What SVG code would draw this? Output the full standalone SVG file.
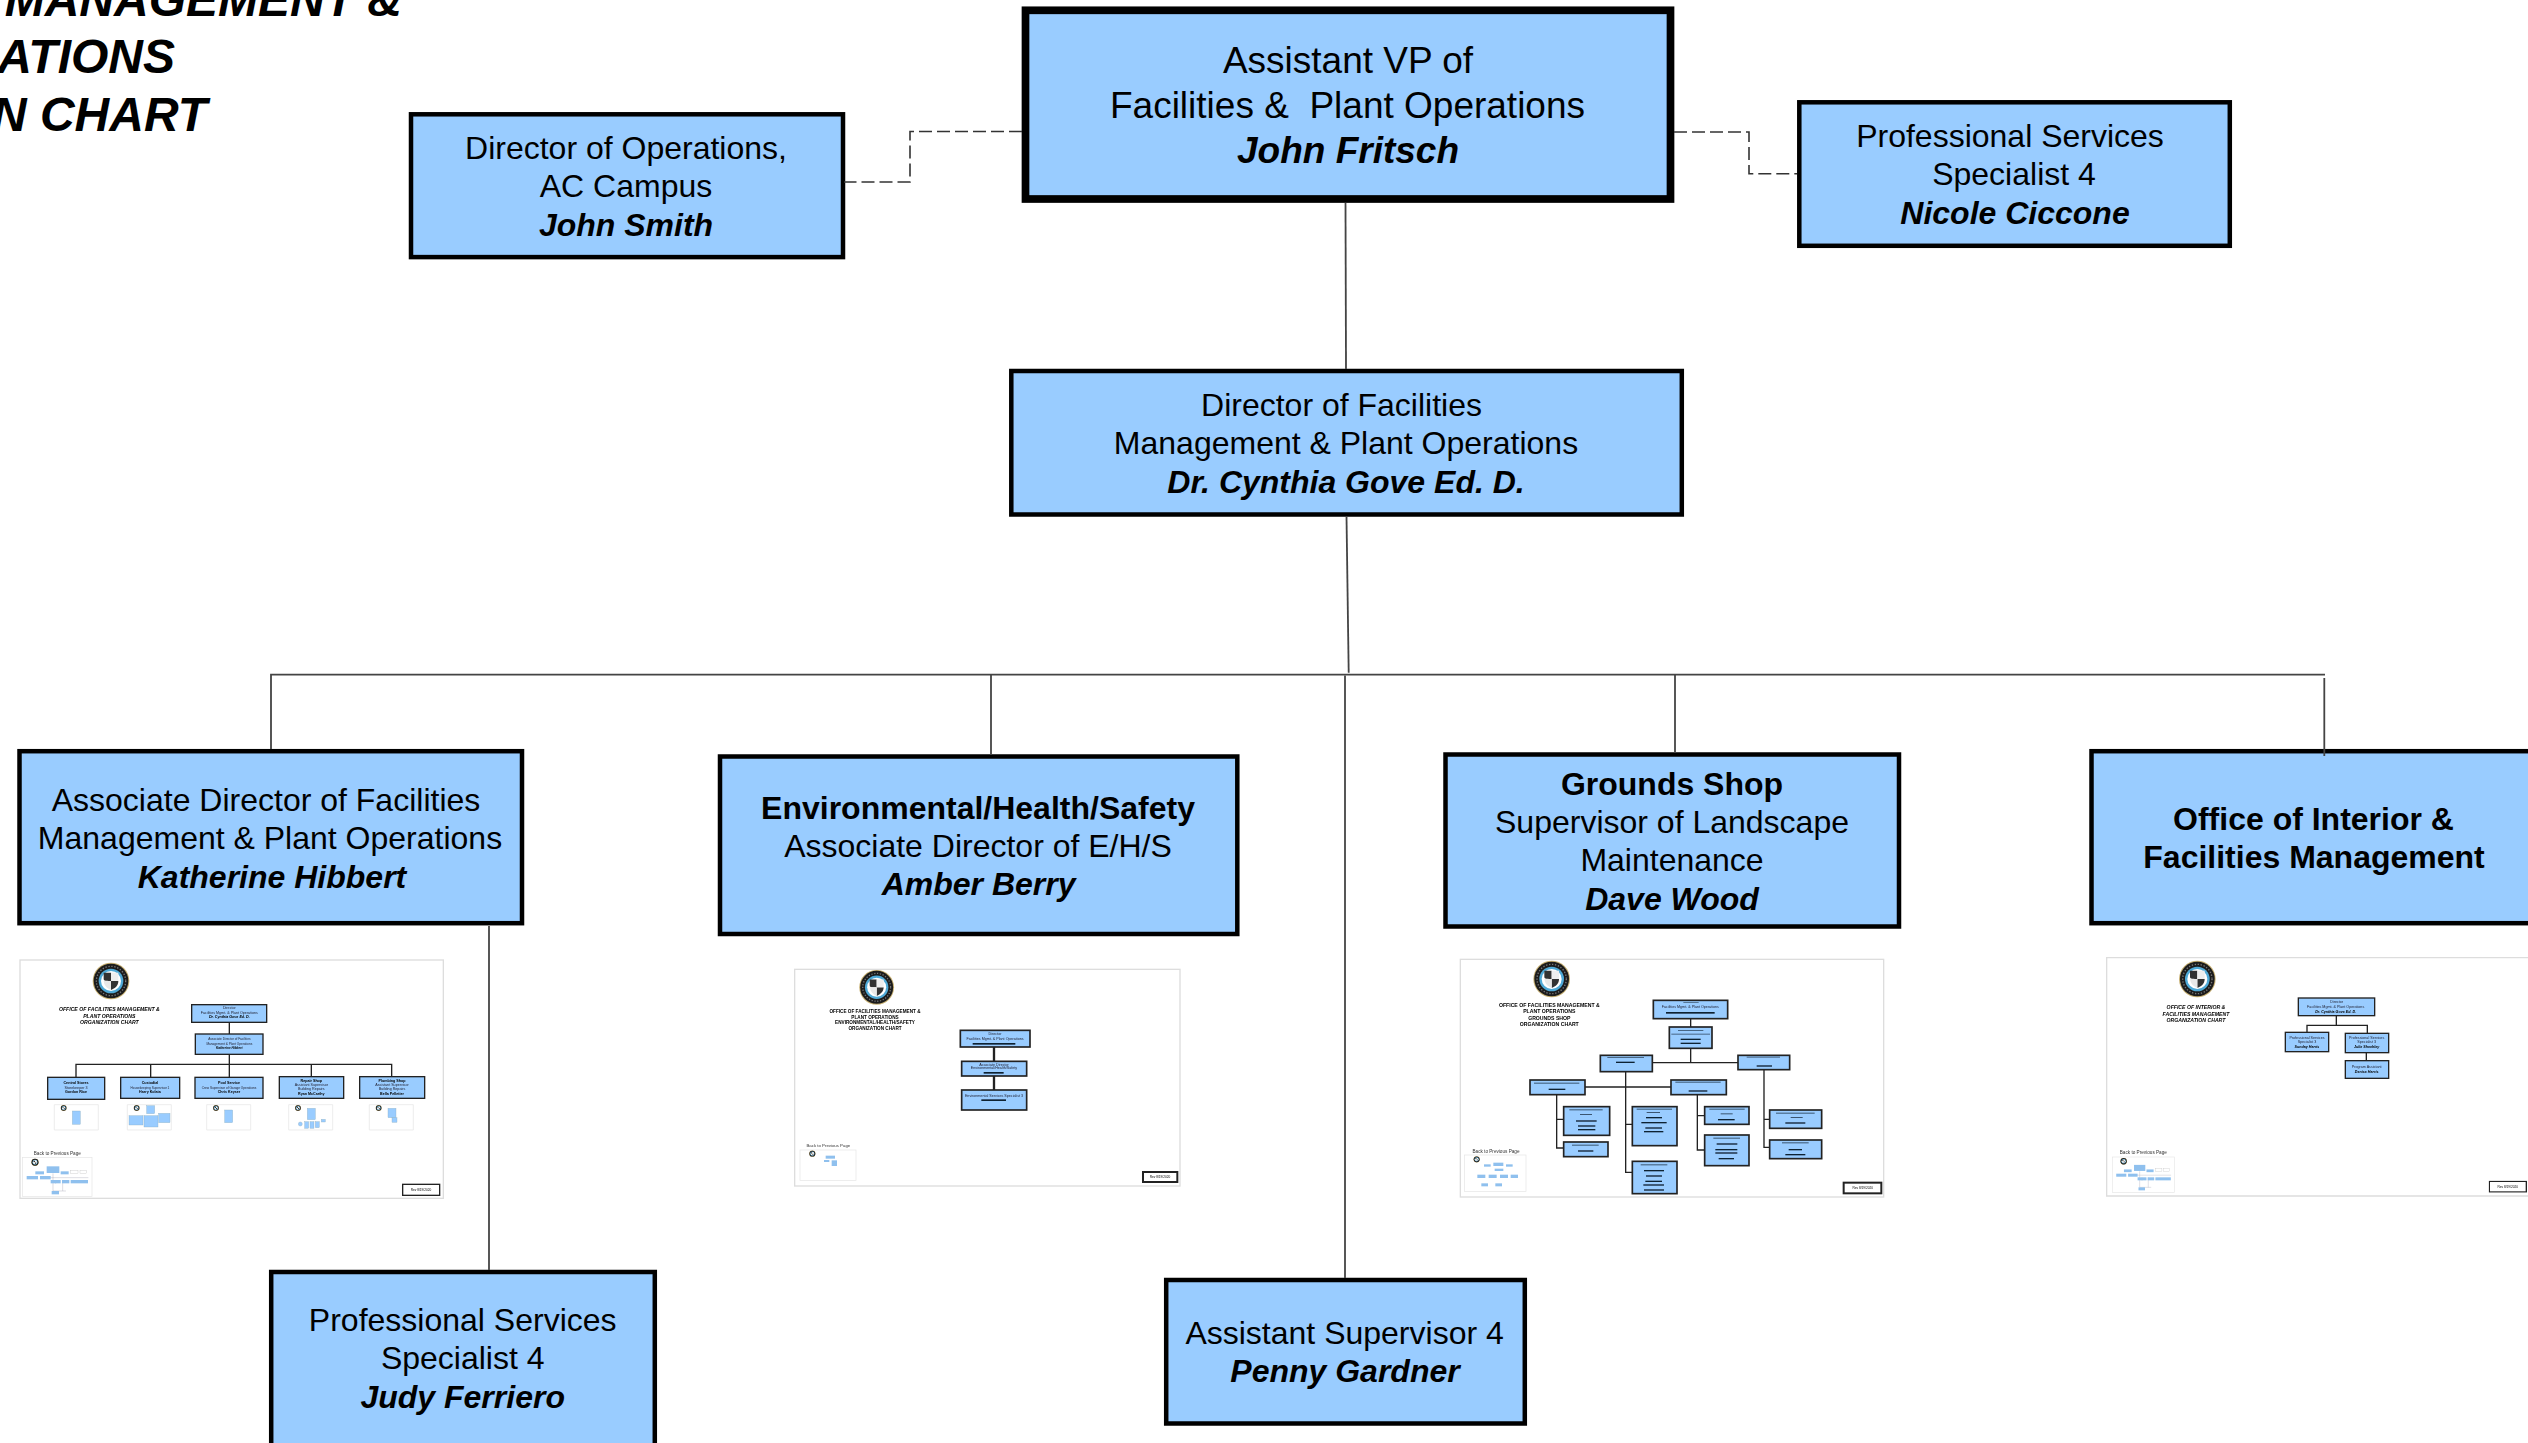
<svg xmlns="http://www.w3.org/2000/svg" width="2528" height="1443" viewBox="0 0 2528 1443">
<style>
text{font-family:"Liberation Sans",Arial,sans-serif;fill:#000;white-space:pre}
.n rect{fill:#9cf;stroke:#000;stroke-width:4.5}
.n text{font-size:32px;text-anchor:middle}
.b{font-weight:bold}
.bi{font-weight:bold;font-style:italic}
.title{font-size:48px;font-weight:bold;font-style:italic;text-anchor:end}
.c{fill:none;stroke:#444;stroke-width:1.8}
.d{fill:none;stroke:#333;stroke-width:1.6;stroke-dasharray:13 5}
.th{filter:url(#soft)}
.fr{fill:#fff;stroke:#ddd;stroke-width:4}
.bx{fill:#9cf;stroke:#222;stroke-width:4}
.bt{fill:#9cf;stroke:#222;stroke-width:5}
.ln{fill:none;stroke:#222;stroke-width:4}
.tt{font-size:15.5px;font-weight:bold;font-style:italic;text-anchor:middle}
.tb{font-size:15.5px;font-weight:bold;text-anchor:middle}
.s{font-size:11px;text-anchor:middle;fill:#223}
.sb{font-size:11px;font-weight:bold;text-anchor:middle}
.si{font-size:11px;font-weight:bold;font-style:italic;text-anchor:middle}
.bk{font-size:14px;text-anchor:middle;fill:#333}
.rv{fill:#fff;stroke:#222;stroke-width:4}
.rt{font-size:9.5px;text-anchor:middle}
.bar{fill:#123}
.g{fill:#9cf;stroke:#8ab;stroke-width:1}
.m{fill:#fff;stroke:#e4e4e4;stroke-width:2}
.mb{fill:#8fc0ee}
.mw{fill:#fff;stroke:#bbb;stroke-width:1}
.ml{fill:none;stroke:#99a;stroke-width:1}
</style>
<defs>
<filter id="soft" x="-2%" y="-2%" width="104%" height="104%"><feGaussianBlur stdDeviation="2.1"/></filter>
<g id="logo">
<circle r="55" fill="#c8b173"/><circle r="52" fill="#1c1c1c"/><circle r="37" fill="#4fa9d6"/><circle r="30" fill="#fff"/>
<path d="M0 0V-25H-22V-8C-22 0 -20 0 0 0Z" fill="#333"/><path d="M0 0H22C22 14 12 22 0 27Z" fill="#333"/>
<path d="M0 0H-22C-20 14 -12 22 0 27Z" fill="#e8e8e8"/><path d="M0 0V-25H22V0Z" fill="#eee"/>
<circle r="44" fill="none" stroke="#777" stroke-width="4" stroke-dasharray="4 5"/>
</g>
<g id="mini">
<rect class="m" width="208" height="117"/>
<use href="#logo" transform="translate(37,14) scale(.2)"/>
<path class="ml" d="M91 47V100H130M91 60H60M91 60H197M99 67V78M120 67V100"/>
<rect class="mb" x="72" y="26" width="38" height="20"/><rect class="mb" x="38" y="41" width="26" height="9"/><rect class="mb" x="114" y="41" width="24" height="9"/>
<rect class="mw" x="144" y="39" width="22" height="8"/><rect class="mw" x="172" y="39" width="20" height="8"/>
<rect class="mb" x="12" y="55" width="34" height="10"/><rect class="mb" x="52" y="55" width="32" height="10"/>
<rect class="mb" x="84" y="67" width="30" height="10"/><rect class="mb" x="118" y="67" width="22" height="10"/><rect class="mb" x="144" y="67" width="52" height="10"/>
<rect class="mb" x="87" y="100" width="22" height="10"/>
</g>
<g id="tiny"><path d="M0 0H132V76H0Z" class="m"/><use href="#logo" transform="translate(28,10) scale(.16)"/></g>
</defs>
<rect width="2528" height="1443" fill="#fff"/>

<text class="title" x="402" y="16">MANAGEMENT &amp;</text>
<text class="title" x="175" y="73">ATIONS</text>
<text class="title" x="207" y="131">N CHART</text>

<g id="node-avp" class="n"><rect x="1025.5" y="10.3" width="645" height="188.7" style="stroke-width:7.7"/>
<text x="1348" y="72.7" style="font-size:37px">Assistant VP of</text><text x="1347.5" y="117.5" style="font-size:37px">Facilities &amp;  Plant Operations</text><text class="bi" x="1348" y="162.7" style="font-size:37px">John Fritsch</text></g>
<g id="node-ops" class="n"><rect x="411" y="114.3" width="432" height="142.8"/>
<text x="626" y="158.7">Director of Operations,</text><text x="626" y="196.7">AC Campus</text><text class="bi" x="626" y="235.5">John Smith</text></g>
<g id="node-ciccone" class="n"><rect x="1799.3" y="102.3" width="430.5" height="143.5"/>
<text x="2010" y="146.7">Professional Services</text><text x="2014" y="185">Specialist 4</text><text class="bi" x="2015" y="224">Nicole Ciccone</text></g>
<g id="node-gove" class="n"><rect x="1011.3" y="371" width="670.5" height="143.5"/>
<text x="1341.5" y="416">Director of Facilities</text><text x="1346" y="454">Management &amp; Plant Operations</text><text class="bi" x="1346" y="493">Dr. Cynthia Gove Ed. D.</text></g>
<g id="node-hibbert" class="n"><rect x="19.5" y="751.2" width="502.5" height="172"/>
<text x="266" y="810.7">Associate Director of Facilities</text><text x="270" y="849">Management &amp; Plant Operations</text><text class="bi" x="272" y="888">Katherine Hibbert</text></g>
<g id="node-berry" class="n"><rect x="720" y="756.5" width="517.3" height="177.5"/>
<text class="b" x="978" y="818.5">Environmental/Health/Safety</text><text x="978" y="856.7">Associate Director of E/H/S</text><text class="bi" x="978.6" y="895">Amber Berry</text></g>
<g id="node-wood" class="n"><rect x="1445.5" y="754.5" width="453.5" height="172"/>
<text class="b" x="1672" y="794.5">Grounds Shop</text><text x="1672" y="832.5">Supervisor of Landscape</text><text x="1672" y="871">Maintenance</text><text class="bi" x="1672" y="910">Dave Wood</text></g>
<g id="node-interior" class="n"><rect x="2091.5" y="751.2" width="500" height="172"/>
<text class="b" x="2313.5" y="830">Office of Interior &amp;</text><text class="b" x="2314" y="868">Facilities Management</text></g>
<g id="node-ferriero" class="n"><rect x="271.2" y="1272" width="383.6" height="250"/>
<text x="462.7" y="1330.5">Professional Services</text><text x="462.7" y="1369">Specialist 4</text><text class="bi" x="462.7" y="1408">Judy Ferriero</text></g>
<g id="node-gardner" class="n"><rect x="1166.2" y="1280" width="358.6" height="143.5"/>
<text x="1344.6" y="1343.7">Assistant Supervisor 4</text><text class="bi" x="1345" y="1382">Penny Gardner</text></g>

<g class="th" transform="translate(0,940) scale(.33333)">
<rect class="fr" x="60" y="60" width="1270" height="715"/>
<use href="#logo" transform="translate(333,123)"/>
<text class="tt" x="328" y="213">OFFICE OF FACILITIES MANAGEMENT &amp;</text><text class="tt" x="328" y="234">PLANT OPERATIONS</text><text class="tt" x="328" y="253">ORGANIZATION CHART</text>
<path class="ln" d="M688 247V411M228 411V373H1175V411M452 373V411M934 373V411"/>
<rect class="bx" x="575" y="194" width="225" height="53"/><text class="s" x="688" y="207">Director</text><text class="s" x="688" y="222">Facilities Mgmt. &amp; Plant Operations</text><text class="si" x="688" y="235">Dr. Cynthia Gove Ed. D.</text>
<rect class="bx" x="586" y="282" width="203" height="61"/><text class="s" x="688" y="301" style="font-size:9.5px">Associate Director of Facilities</text><text class="s" x="688" y="314" style="font-size:9.5px">Management &amp; Plant Operations</text><text class="si" x="688" y="328" style="font-size:9.5px">Katherine Hibbert</text>
<rect class="bx" x="143" y="412" width="171" height="66"/><text class="sb" x="228" y="433">Central Stores</text><text class="s" x="228" y="446">Storekeeper 3</text><text class="sb" x="228" y="460">Gordon Rice</text>
<rect class="bx" x="362" y="412" width="177" height="63"/><text class="sb" x="450" y="433">Custodial</text><text class="s" x="450" y="446" style="font-size:9.5px">Housekeeping Supervisor 1</text><text class="sb" x="450" y="460">Harry Kolata</text>
<rect class="bx" x="585" y="412" width="204" height="63"/><text class="sb" x="687" y="433">Pool Service</text><text class="s" x="687" y="446" style="font-size:9.5px">Crew Supervisor of Garage Operations</text><text class="sb" x="687" y="460">Chris Keyser</text>
<rect class="bx" x="838" y="410" width="193" height="65"/><text class="sb" x="934" y="426">Repair Shop</text><text class="s" x="934" y="439">Assistant Supervisor</text><text class="s" x="934" y="451">Building Repairs</text><text class="sb" x="934" y="465">Ryan McCarthy</text>
<rect class="bx" x="1079" y="410" width="195" height="65"/><text class="sb" x="1176" y="426">Plumbing Shop</text><text class="s" x="1176" y="439">Assistant Supervisor</text><text class="s" x="1176" y="451">Building Repairs</text><text class="sb" x="1176" y="465">Bella Pelletier</text>
<use href="#tiny" x="163" y="494"/><rect class="g" x="217" y="513" width="24" height="40"/>
<use href="#tiny" x="382" y="494"/><rect class="g" x="440" y="497" width="24" height="24"/><rect class="g" x="387" y="527" width="42" height="28"/><rect class="g" x="432" y="527" width="42" height="34"/><rect class="g" x="476" y="520" width="34" height="28"/>
<use href="#tiny" x="620" y="494"/><rect class="g" x="674" y="510" width="24" height="38"/>
<use href="#tiny" x="866" y="494"/><rect class="g" x="922" y="505" width="24" height="34"/><circle class="g" cx="901" cy="552" r="6"/><rect class="g" x="914" y="545" width="12" height="20"/><rect class="g" x="930" y="545" width="12" height="20"/><rect class="g" x="946" y="545" width="12" height="18"/><rect class="g" x="964" y="538" width="12" height="8"/>
<use href="#tiny" x="1108" y="494"/><rect class="g" x="1164" y="505" width="24" height="28"/><rect class="g" x="1176" y="533" width="15" height="14"/>
<text class="bk" x="172" y="646">Back to Previous Page</text>
<use href="#mini" x="68" y="653"/>
<rect class="rv" x="1208" y="733" width="111" height="33"/><text class="rt" x="1263" y="753">Rev 8/19/2020</text>
</g>

<g class="th" transform="translate(780,950) scale(.33333)">
<rect class="fr" x="44" y="58" width="1156" height="650"/>
<use href="#logo" transform="translate(290,112) scale(.95)"/>
<text class="tb" x="285" y="188" style="font-size:14px">OFFICE OF FACILITIES MANAGEMENT &amp;</text><text class="tb" x="285" y="206" style="font-size:14px">PLANT OPERATIONS</text><text class="tb" x="285" y="221" style="font-size:14px">ENVIRONMENTAL/HEALTH/SAFETY</text><text class="tb" x="285" y="240" style="font-size:14px">ORGANIZATION CHART</text>
<path class="ln" d="M642 291V420" style="stroke-width:7"/>
<rect class="bt" x="541" y="241" width="209" height="50"/><text class="s" x="645" y="254">Director</text><text class="s" x="645" y="269">Facilities Mgmt. &amp; Plant Operations</text><rect class="bar" x="578" y="279" width="128" height="5"/>
<rect class="bt" x="545" y="334" width="195" height="44"/><text class="s" x="642" y="347">Associate Director</text><text class="s" x="642" y="358">Environmental/Health/Safety</text><rect class="bar" x="611" y="366" width="60" height="5"/>
<rect class="bt" x="545" y="420" width="195" height="60"/><text class="s" x="642" y="442">Environmental Services Specialist 3</text><rect class="bar" x="604" y="448" width="74" height="5"/>
<text class="bk" x="145" y="592" style="font-size:13px">Back to Previous Page</text>
<rect class="m" x="60" y="600" width="168" height="92"/><use href="#logo" transform="translate(97,611) scale(.17)"/><rect class="mb" x="137" y="617" width="28" height="9"/><rect class="mb" x="132" y="630" width="16" height="6"/><rect class="mb" x="155" y="631" width="16" height="17"/>
<rect class="rv" x="1089" y="666" width="103" height="30" style="stroke-width:6"/><text class="rt" x="1140" y="685">Rev 8/19/2020</text>
</g>

<g class="th" transform="translate(1450,940) scale(.33333)">
<rect class="fr" x="31" y="58" width="1270" height="713"/>
<use href="#logo" transform="translate(305,117)"/>
<text class="tb" x="298" y="200">OFFICE OF FACILITIES MANAGEMENT &amp;</text><text class="tb" x="298" y="220">PLANT OPERATIONS</text><text class="tb" x="298" y="239">GROUNDS SHOP</text><text class="tb" x="298" y="259">ORGANIZATION CHART</text>
<path class="ln" d="M722 236V368M607 368H864M527 395V697H547M405 441H663M320 464V624H341M320 538H341M527 553H547M742 464V630H764M742 527H764M942 389V622H959M942 538H959"/>
<rect class="bt" x="610" y="181" width="223" height="55"/><rect class="bar" x="700" y="186" width="46" height="3" opacity=".5"/><text class="s" x="721" y="205">Facilities Mgmt. &amp; Plant Operations</text><rect class="bar" x="648" y="216" width="146" height="5"/>
<rect class="bt" x="658" y="261" width="128" height="64"/><rect class="bar" x="684" y="270" width="76" height="3" opacity=".6"/><rect class="bar" x="664" y="281" width="116" height="3" opacity=".6"/><rect class="bar" x="692" y="296" width="60" height="4"/><rect class="bar" x="692" y="308" width="60" height="4"/>
<rect class="bt" x="451" y="346" width="156" height="49"/><rect class="bar" x="472" y="351" width="110" height="3" opacity=".6"/><rect class="bar" x="498" y="365" width="56" height="4"/>
<rect class="bt" x="864" y="346" width="155" height="43"/><rect class="bar" x="890" y="350" width="100" height="3" opacity=".6"/><rect class="bar" x="920" y="376" width="46" height="4"/>
<rect class="bt" x="240" y="420" width="165" height="44"/><rect class="bar" x="252" y="428" width="136" height="3" opacity=".7"/><rect class="bar" x="296" y="446" width="50" height="4"/>
<rect class="bt" x="663" y="420" width="166" height="44"/><rect class="bar" x="676" y="425" width="136" height="3" opacity=".7"/><rect class="bar" x="716" y="451" width="56" height="4"/>
<rect class="bt" x="341" y="500" width="138" height="86"/><rect class="bar" x="358" y="508" width="100" height="3" opacity=".7"/><rect class="bar" x="390" y="522" width="36" height="3" opacity=".7"/><rect class="bar" x="378" y="541" width="62" height="4"/><rect class="bar" x="384" y="556" width="52" height="4"/><rect class="bar" x="384" y="567" width="52" height="4"/>
<rect class="bt" x="341" y="606" width="133" height="44"/><rect class="bar" x="366" y="614" width="80" height="3" opacity=".7"/><rect class="bar" x="384" y="631" width="46" height="4"/>
<rect class="bt" x="547" y="500" width="134" height="117"/><rect class="bar" x="560" y="506" width="106" height="3" opacity=".7"/><rect class="bar" x="590" y="516" width="40" height="3" opacity=".7"/><rect class="bar" x="588" y="531" width="48" height="4"/><rect class="bar" x="574" y="546" width="76" height="4"/><rect class="bar" x="586" y="562" width="50" height="4"/><rect class="bar" x="582" y="573" width="58" height="4"/>
<rect class="bt" x="547" y="664" width="134" height="97"/><rect class="bar" x="572" y="673" width="80" height="3" opacity=".7"/><rect class="bar" x="582" y="690" width="60" height="4"/><rect class="bar" x="588" y="706" width="48" height="4"/><rect class="bar" x="586" y="722" width="50" height="4"/><rect class="bar" x="580" y="733" width="62" height="4"/><rect class="bar" x="582" y="748" width="60" height="4"/>
<rect class="bt" x="764" y="500" width="133" height="53"/><rect class="bar" x="778" y="506" width="106" height="3" opacity=".7"/><rect class="bar" x="812" y="520" width="36" height="3" opacity=".7"/><rect class="bar" x="804" y="537" width="50" height="4"/>
<rect class="bt" x="764" y="585" width="133" height="92"/><rect class="bar" x="790" y="593" width="80" height="3" opacity=".7"/><rect class="bar" x="800" y="610" width="62" height="4"/><rect class="bar" x="796" y="627" width="66" height="4"/><rect class="bar" x="796" y="637" width="66" height="4"/><rect class="bar" x="806" y="654" width="46" height="4"/>
<rect class="bt" x="959" y="510" width="156" height="55"/><rect class="bar" x="978" y="518" width="116" height="3" opacity=".7"/><rect class="bar" x="1022" y="531" width="36" height="3" opacity=".7"/><rect class="bar" x="1006" y="547" width="60" height="4"/>
<rect class="bt" x="959" y="600" width="156" height="56"/><rect class="bar" x="996" y="607" width="80" height="3" opacity=".7"/><rect class="bar" x="1016" y="627" width="40" height="4"/><rect class="bar" x="1006" y="642" width="60" height="4"/>
<text class="bk" x="138" y="640">Back to Previous Page</text>
<rect class="m" x="44" y="645" width="184" height="110"/><use href="#logo" transform="translate(80,658) scale(.17)"/><rect class="mb" x="130" y="668" width="30" height="10"/><rect class="mb" x="102" y="673" width="20" height="7"/><rect class="mb" x="168" y="673" width="20" height="7"/><rect class="mb" x="134" y="686" width="26" height="7"/><rect class="mb" x="82" y="704" width="24" height="10"/><rect class="mb" x="116" y="704" width="24" height="10"/><rect class="mb" x="150" y="704" width="24" height="10"/><rect class="mb" x="182" y="704" width="22" height="10"/><rect class="mb" x="94" y="730" width="20" height="9"/><rect class="mb" x="136" y="730" width="20" height="9"/>
<rect class="rv" x="1181" y="728" width="113" height="32" style="stroke-width:6"/><text class="rt" x="1238" y="748">Rev 8/19/2020</text>
</g>

<g class="th" transform="translate(2090,940) scale(.33333)">
<path class="fr" d="M1330 53H50V768H1330"/>
<use href="#logo" transform="translate(322,117)"/>
<text class="tt" x="318" y="207">OFFICE OF INTERIOR &amp;</text><text class="tt" x="318" y="227">FACILITIES MANAGEMENT</text><text class="tt" x="318" y="247">ORGANIZATION CHART</text>
<path class="ln" d="M739 227V256M651 277V256H832V280M829 338V362"/>
<rect class="bx" x="625" y="174" width="229" height="53"/><text class="s" x="740" y="188">Director</text><text class="s" x="737" y="203">Facilities Mgmt. &amp; Plant Operations</text><text class="si" x="737" y="218">Dr. Cynthia Gove Ed. D.</text>
<rect class="bx" x="586" y="277" width="130" height="58"/><text class="s" x="651" y="297">Professional Services</text><text class="s" x="651" y="309">Specialist 3</text><text class="si" x="651" y="323">Sunday Harris</text>
<rect class="bx" x="766" y="280" width="130" height="58"/><text class="s" x="830" y="297">Professional Services</text><text class="s" x="830" y="309">Specialist 3</text><text class="si" x="830" y="323">Julie Sheehley</text>
<rect class="bx" x="766" y="362" width="130" height="53"/><text class="s" x="830" y="384">Program Assistant</text><text class="si" x="830" y="398">Denise Harris</text>
<text class="bk" x="160" y="642">Back to Previous Page</text>
<use href="#mini" transform="translate(68,651) scale(.89,.91)"/>
<rect class="rv" x="1198" y="724" width="111" height="32"/><text class="rt" x="1253" y="743">Rev 8/19/2020</text>
</g>

<g id="connectors">
<path class="d" d="M1022 131.5H910V182H844"/>
<path class="d" d="M1674 132H1749V173.7H1797"/>
<path class="c" d="M1345.5 203L1346 369"/>
<path class="c" d="M1346.5 516L1348.7 672.7"/>
<path class="c" d="M271 749V674.7H2325"/>
<path class="c" d="M2324.3 678V756"/>
<path class="c" d="M1345 675.5V1278"/>
<path class="c" d="M991 675V755"/>
<path class="c" d="M1675 675V753"/>
<path class="c" d="M489 926V1270"/>
</g>
</svg>
